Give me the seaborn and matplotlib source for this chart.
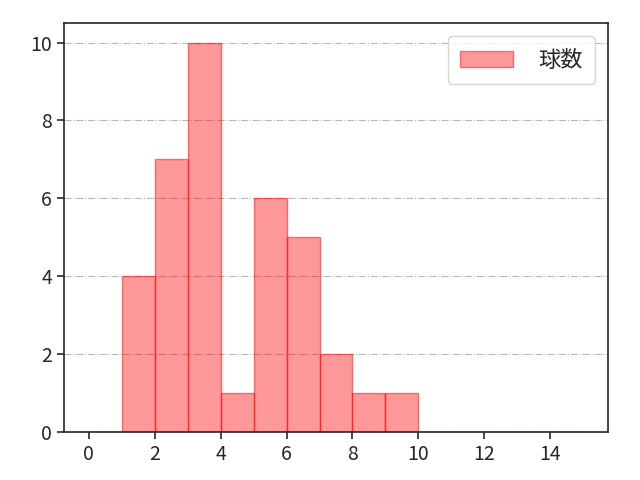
import matplotlib
matplotlib.use("Agg")
import matplotlib.pyplot as plt
import seaborn as sns

# Datos: recuento por intervalo (ancho 1, de 0 a 15)
bin_edges = list(range(0, 16))
bin_left = list(range(0, 15))
counts = [0, 4, 7, 10, 1, 6, 5, 2, 1, 1, 0, 0, 0, 0, 0]
label = "球数"

sns.set_style("ticks")
plt.rcParams["font.family"] = ["Noto Sans CJK JP", "DejaVu Sans"]

fig, ax = plt.subplots(figsize=(6.4, 4.8), dpi=100)
sns.histplot(
    x=bin_left, weights=counts, bins=bin_edges, ax=ax,
    color="#ff0000", alpha=0.4, edgecolor=(1, 0, 0, 0.5), linewidth=1.0,
    label=label,
)
ax.set_xlim(-0.75, 15.75)
ax.set_xticks(range(0, 16, 2))
ax.set_ylabel("")
ax.set_xlabel("")
ax.tick_params(labelsize=14, width=1.2, length=5)
ax.grid(axis="y", linestyle="-.", color="#b8b8b8")
ax.set_axisbelow(True)
for s in ax.spines.values():
    s.set_visible(True)
    s.set_linewidth(1.2)
ax.legend(loc="upper right", fontsize=16, handlelength=2.4, handletextpad=1.1,
          borderpad=0.55, borderaxespad=0.6)

fig.subplots_adjust(left=0.1, right=0.95, top=0.952, bottom=0.1)
fig.savefig("out.png", dpi=100)
